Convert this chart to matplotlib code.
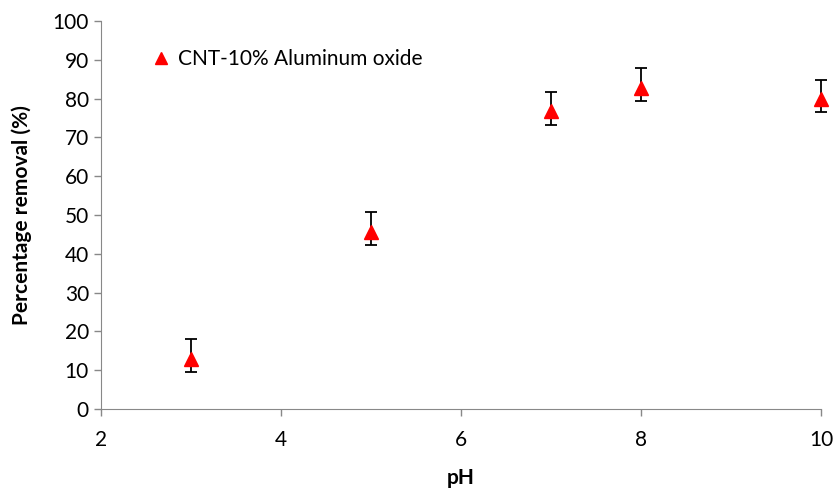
import matplotlib.pyplot as plt

plt.rcParams["font.family"] = ["Lato", "DejaVu Sans"]

ph = [3, 5, 7, 8, 10]
removal = [13.0, 45.6, 76.8, 82.8, 80.0]
err_low = [3.5, 3.3, 3.5, 3.4, 3.5]
err_high = [5.0, 5.2, 5.0, 5.0, 4.8]

fig = plt.figure(figsize=(8.33, 4.88), dpi=100)
ax = fig.add_axes([0.121, 0.162, 0.865, 0.795])

eb = ax.errorbar(ph, removal, yerr=[err_low, err_high], fmt="none", ecolor="black",
                 elinewidth=1.3, capsize=4.5, capthick=1.3, zorder=2)
for art in eb.lines[1] + eb.lines[2]:
    art.set_clip_on(False)
ax.plot(ph, removal, linestyle="none", marker="^", color="red", markersize=10,
        label="CNT-10% Aluminum oxide", zorder=3, clip_on=False)

ax.set_xlim(2, 10)
ax.set_ylim(0, 100)
ax.set_xticks([2, 4, 6, 8, 10])
ax.set_yticks(range(0, 101, 10))
ax.tick_params(labelsize=15, color="#888888", length=5, width=1)
ax.tick_params(axis="x", pad=10)
for s in ["top", "right"]:
    ax.spines[s].set_visible(False)
for s in ["left", "bottom"]:
    ax.spines[s].set_color("#888888")

ax.set_xlabel("pH", fontsize=15, fontweight="bold", labelpad=13)
ax.set_ylabel("Percentage removal (%)", fontsize=15, fontweight="bold", labelpad=15)

ax.legend(loc="upper left", bbox_to_anchor=(0.04, 0.975), frameon=False,
          fontsize=15, handletextpad=0.2, handlelength=1.2, markerscale=0.9)

fig.savefig("out.png", dpi=100)
